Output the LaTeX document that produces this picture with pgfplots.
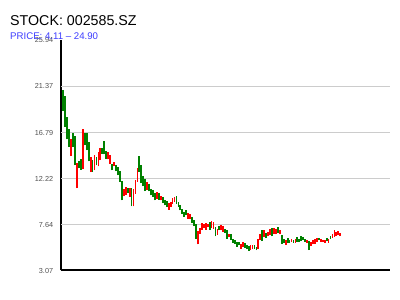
\documentclass[border=0pt]{standalone}
\usepackage{pgfplots}
\pgfplotsset{compat=1.18}
\usepackage{fontspec}
\setmainfont{Liberation Sans}
\definecolor{upred}{RGB}{255,0,0}
\definecolor{dngreen}{RGB}{0,128,0}
\definecolor{subblue}{RGB}{60,60,255}
\definecolor{gridgray}{RGB}{204,204,204}
\definecolor{lblgray}{RGB}{80,80,80}

\begin{document}
\begin{tikzpicture}
\path[use as bounding box] (0,0) rectangle (400bp,300bp);
\begin{axis}[
  at={(61bp,29.5bp)}, anchor=south west,
  scale only axis, width=329bp, height=230bp,
  xmin=-1.2, xmax=167.5,
  ymin=3.07, ymax=25.94,
  axis x line*=bottom, axis y line*=left,
  axis line style={line width=2bp, black},
  xtick=\empty,
  ytick={3.07,7.64,12.22,16.79,21.37,25.94},
  yticklabels={3.07,7.64,12.22,16.79,21.37,25.94},
  major tick length=0pt,
  extra y ticks={7.64,12.22,16.79,21.37},
  extra y tick labels={},
  extra y tick style={grid=major, major grid style={gridgray, line width=1bp}},
  /pgf/number format/assume math mode=true,
  yticklabel style={font=\fontsize{7.3}{8}\selectfont, text=lblgray, inner sep=0pt, anchor=east, xshift=-7.7bp},
  unbounded coords=jump,
]
% down days (green): low/high pairs
\addplot[dngreen, line width=1.8bp, line cap=butt, mark=none, forget plot] coordinates {
(0,18.92)(0,20.97)(0,nan)
(1,17.33)(1,20.38)(1,nan)
(2,16.11)(2,18.32)(2,nan)
(3,15.34)(3,17.10)(3,nan)
(5,15.34)(5,16.73)(5,nan)
(6,13.53)(6,16.41)(6,nan)
(8,13.23)(8,13.95)(8,nan)
(9,13.10)(9,14.12)(9,nan)
(11,15.51)(11,16.73)(11,nan)
(12,15.01)(12,16.73)(12,nan)
(13,13.92)(13,15.84)(13,nan)
(15,12.86)(15,14.02)(15,nan)
(17,13.53)(17,14.35)(17,nan)
(20,14.69)(20,15.28)(20,nan)
(21,14.62)(21,15.94)(21,nan)
(22,14.19)(22,14.92)(22,nan)
(25,13.03)(25,13.69)(25,nan)
(27,12.93)(27,13.53)(27,nan)
(28,12.53)(28,13.36)(28,nan)
(29,11.87)(29,12.93)(29,nan)
(30,10.05)(30,11.97)(30,nan)
(33,10.81)(33,11.27)(33,nan)
(35,9.45)(35,11.27)(35,nan)
(39,12.86)(39,14.42)(39,nan)
(40,11.77)(40,13.59)(40,nan)
(41,11.44)(41,12.46)(41,nan)
(42,10.97)(42,12.20)(42,nan)
(44,10.94)(44,11.64)(44,nan)
(45,10.55)(45,11.14)(45,nan)
(46,10.38)(46,11.04)(46,nan)
(47,10.05)(47,10.77)(47,nan)
(49,10.12)(49,10.77)(49,nan)
(51,9.78)(51,10.38)(51,nan)
(52,9.55)(52,10.12)(52,nan)
(53,9.39)(53,9.98)(53,nan)
(58,9.72)(58,10.45)(58,nan)
(59,9.39)(59,9.88)(59,nan)
(60,9.06)(60,9.62)(60,nan)
(61,8.73)(61,9.23)(61,nan)
(62,8.39)(62,8.89)(62,nan)
(63,8.56)(63,9.06)(63,nan)
(66,7.80)(66,8.39)(66,nan)
(67,7.47)(67,8.13)(67,nan)
(68,6.25)(68,7.74)(68,nan)
(75,7.14)(75,7.90)(75,nan)
(78,6.47)(78,7.40)(78,nan)
(80,7.07)(80,7.47)(80,nan)
(83,6.80)(83,7.24)(83,nan)
(84,6.25)(84,7.07)(84,nan)
(86,6.08)(86,6.67)(86,nan)
(87,5.81)(87,6.25)(87,nan)
(88,5.75)(88,6.08)(88,nan)
(89,5.41)(89,5.91)(89,nan)
(90,5.58)(90,5.91)(90,nan)
(93,5.35)(93,5.81)(93,nan)
(94,5.18)(94,5.58)(94,nan)
(95,5.01)(95,5.48)(95,nan)
(98,5.25)(98,5.58)(98,nan)
(99,5.09)(99,5.41)(99,nan)
(102,5.98)(102,7.14)(102,nan)
(104,6.35)(104,6.80)(104,nan)
(107,6.47)(107,7.30)(107,nan)
(110,6.80)(110,7.40)(110,nan)
(112,5.75)(112,6.57)(112,nan)
(113,5.81)(113,6.25)(113,nan)
(115,5.81)(115,6.31)(115,nan)
(116,5.81)(116,6.15)(116,nan)
(118,5.81)(118,6.15)(118,nan)
(120,5.91)(120,6.41)(120,nan)
(121,5.91)(121,6.25)(121,nan)
(122,5.98)(122,6.47)(122,nan)
(123,6.08)(123,6.41)(123,nan)
(124,5.91)(124,6.25)(124,nan)
(126,5.09)(126,6.01)(126,nan)
(131,6.08)(131,6.35)(131,nan)
(135,5.98)(135,6.31)(135,nan)
(137,6.25)(137,6.47)(137,nan)
};
% up days (red): low/high pairs
\addplot[upred, line width=1.8bp, line cap=butt, mark=none, forget plot] coordinates {
(4,14.45)(4,16.18)(4,nan)
(7,11.27)(7,13.75)(7,nan)
(10,13.13)(10,17.10)(10,nan)
(14,12.86)(14,14.35)(14,nan)
(16,13.03)(16,14.52)(16,nan)
(18,13.43)(18,14.85)(18,nan)
(19,14.02)(19,15.28)(19,nan)
(23,14.12)(23,14.85)(23,nan)
(24,13.69)(24,14.59)(24,nan)
(26,13.43)(26,13.85)(26,nan)
(31,10.45)(31,11.21)(31,nan)
(32,10.62)(32,11.37)(32,nan)
(34,10.38)(34,11.31)(34,nan)
(36,9.45)(36,11.21)(36,nan)
(37,10.72)(37,12.11)(37,nan)
(38,11.87)(38,13.26)(38,nan)
(43,11.04)(43,11.87)(43,nan)
(48,10.22)(48,10.87)(48,nan)
(50,10.05)(50,10.45)(50,nan)
(54,9.13)(54,9.78)(54,nan)
(55,9.39)(55,9.88)(55,nan)
(56,9.72)(56,10.32)(56,nan)
(57,9.88)(57,10.38)(57,nan)
(64,8.23)(64,8.79)(64,nan)
(65,8.23)(65,8.66)(65,nan)
(69,5.68)(69,7.00)(69,nan)
(70,6.74)(70,7.34)(70,nan)
(71,7.14)(71,7.80)(71,nan)
(72,7.34)(72,7.74)(72,nan)
(73,7.14)(73,7.80)(73,nan)
(74,7.40)(74,7.74)(74,nan)
(76,7.30)(76,8.00)(76,nan)
(77,7.24)(77,7.90)(77,nan)
(79,6.64)(79,7.24)(79,nan)
(81,7.14)(81,7.57)(81,nan)
(82,6.90)(82,7.47)(82,nan)
(85,6.41)(85,6.74)(85,nan)
(91,5.25)(91,5.75)(91,nan)
(92,5.41)(92,5.91)(92,nan)
(96,5.09)(96,5.58)(96,nan)
(97,5.25)(97,5.58)(97,nan)
(100,5.25)(100,6.25)(100,nan)
(101,6.08)(101,6.67)(101,nan)
(103,6.41)(103,7.07)(103,nan)
(105,6.47)(105,6.90)(105,nan)
(106,6.57)(106,7.24)(106,nan)
(108,6.74)(108,7.34)(108,nan)
(109,6.67)(109,7.24)(109,nan)
(111,6.67)(111,7.14)(111,nan)
(114,5.65)(114,6.15)(114,nan)
(117,5.91)(117,6.25)(117,nan)
(119,5.81)(119,6.25)(119,nan)
(125,5.81)(125,6.15)(125,nan)
(127,5.51)(127,5.91)(127,nan)
(128,5.68)(128,6.08)(128,nan)
(129,5.75)(129,6.25)(129,nan)
(130,5.91)(130,6.35)(130,nan)
(132,5.91)(132,6.25)(132,nan)
(133,5.91)(133,6.15)(133,nan)
(134,5.85)(134,6.15)(134,nan)
(136,5.81)(136,6.25)(136,nan)
(138,6.35)(138,6.74)(138,nan)
(139,6.41)(139,7.14)(139,nan)
(140,6.47)(140,6.90)(140,nan)
(141,6.57)(141,7.00)(141,nan)
(142,6.50)(142,6.80)(142,nan)
};
\end{axis}
\node[anchor=base west, inner sep=0pt, font=\fontsize{14.3}{16}\selectfont] at (10bp,274.3bp) {STOCK: 002585.SZ};
\node[anchor=base west, inner sep=0pt, font=\fontsize{9.7}{11}\selectfont, text=subblue] at (10bp,260bp) {PRICE: 4.11 – 24.90};
\end{tikzpicture}
\end{document}
